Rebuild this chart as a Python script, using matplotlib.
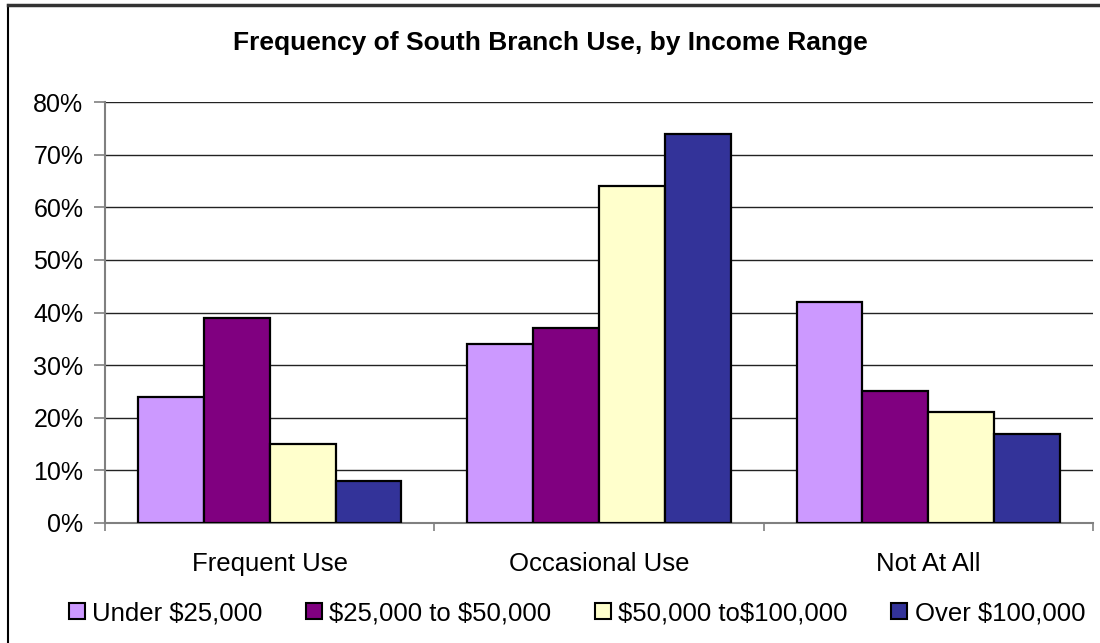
import matplotlib.pyplot as plt
import numpy as np
from matplotlib.lines import Line2D
from matplotlib.ticker import FuncFormatter

plt.rcParams["font.family"] = ["Liberation Sans", "DejaVu Sans"]

categories = ["Frequent Use", "Occasional Use", "Not At All"]
series_names = ["Under $25,000", "$25,000 to $50,000", "$50,000 to$100,000", "Over $100,000"]
under_25k = [24, 34, 42]
from_25k_to_50k = [39, 37, 25]
from_50k_to_100k = [15, 64, 21]
over_100k = [8, 74, 17]
colors = ["#CC99FF", "#800080", "#FFFFCC", "#333399"]

series = [under_25k, from_25k_to_50k, from_50k_to_100k, over_100k]

fig = plt.figure(figsize=(11, 6.43), dpi=100)
ax = fig.add_axes([105 / 1100, (643 - 523) / 643, (1093 - 105) / 1100, (523 - 102) / 643])

x = np.arange(len(categories))
width = 0.2
for i, (vals, name, c) in enumerate(zip(series, series_names, colors)):
    ax.bar(x + (i - 1.5) * width, np.array(vals) / 100, width, color=c,
           edgecolor="black", linewidth=1.6, label=name, zorder=3)

ax.set_xlim(-0.5, len(categories) - 0.5)
ax.set_ylim(0, 0.8)
ax.set_yticks(np.arange(0, 0.81, 0.1))
ax.yaxis.set_major_formatter(FuncFormatter(lambda v, _: f"{v * 100:.0f}%"))
ax.yaxis.grid(True, color="#222222", linewidth=1, zorder=0)
ax.set_axisbelow(True)

# category labels, ticks between categories
ax.set_xticks(x)
ax.set_xticklabels(categories)
ax.set_xticks(np.arange(-0.5, len(categories)), minor=True)
ax.tick_params(axis="x", which="major", length=0, pad=21, labelsize=18.5)
ax.tick_params(axis="x", which="minor", length=6, color="#808080", width=1.2)
ax.tick_params(axis="y", length=8, color="#808080", width=1.2, pad=7.5, labelsize=18)

for s in ["top", "right"]:
    ax.spines[s].set_visible(False)
for s in ["left", "bottom"]:
    ax.spines[s].set_color("#808080")
    ax.spines[s].set_linewidth(1.5)

fig.suptitle("Frequency of South Branch Use, by Income Range", fontsize=19,
             fontweight="bold", y=1 - 43 / 643, va="center")

handles = [Line2D([], [], marker="s", linestyle="none", markersize=11,
                  markerfacecolor=c, markeredgecolor="black", markeredgewidth=1.5)
           for c in colors]
labels = [n.replace("$", r"\$") for n in series_names]
fig.legend(handles, labels, loc="center", ncol=4,
           bbox_to_anchor=(0.524, (643 - 613) / 643), frameon=False, fontsize=18.5,
           handlelength=0.7, handletextpad=0.25, columnspacing=1.65)

# chart area border (left and top visible)
fig.add_artist(Line2D([8 / 1100, 8 / 1100], [0, 1 - 5 / 643], color="black", linewidth=1.5))
fig.add_artist(Line2D([8 / 1100, 1], [1 - 5 / 643, 1 - 5 / 643], color="#333333", linewidth=2.5))

fig.savefig("out.png", dpi=100)
